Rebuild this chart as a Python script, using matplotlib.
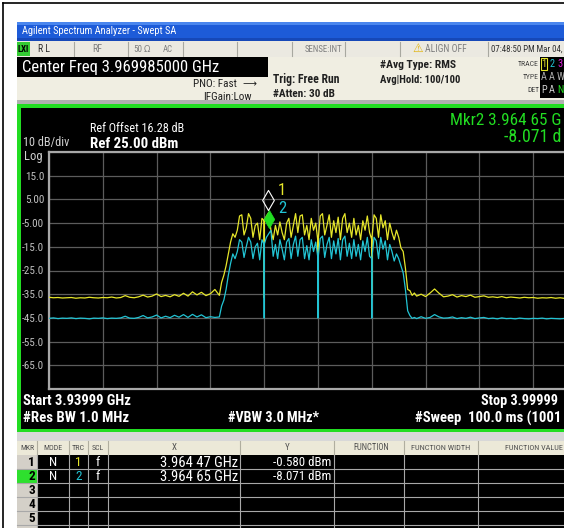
import numpy as np
import matplotlib
matplotlib.use("Agg")
import matplotlib.pyplot as plt
from matplotlib.patches import Rectangle
from matplotlib.path import Path
from matplotlib import transforms, font_manager
from matplotlib.font_manager import FontProperties

# ---------------- data ----------------
START_GHZ, STOP_GHZ = 3.93999, 3.99999
ref_level = 25.0
db_per_div = 10.0
y_tick_values = [15.0, 5.0, -5.0, -15.0, -25.0, -35.0, -45.0, -55.0, -65.0]
y_tick_labels = ["15.0", "5.00", "-5.00", "-15.0", "-25.0", "-35.0", "-45.0", "-55.0", "-65.0"]

# sweep offsets from start frequency, MHz
left_offsets = np.arange(0.0, 19.01, 0.5)
band_offsets = np.arange(19.25, 41.01, 0.25)
right_offsets = np.arange(41.5, 60.01, 0.5)

yellow_left = [-36.3, -36.5, -36.4, -36.6, -36.5, -36.4, -36.7, -36.5, -36.6, -36.3,
               -36.5, -36.6, -36.4, -36.5, -36.2, -36.6, -36.4, -35.6, -36.3, -36.5,
               -36.1, -35.4, -36.2, -35.8, -34.9, -36.0, -35.5, -36.1, -35.2, -35.9,
               -34.6, -35.8, -34.0, -35.3, -34.2, -35.6, -34.8, -33.0, -35.5]
cyan_left = [-45.2, -45.0, -45.3, -45.1, -45.2, -45.0, -45.3, -45.1, -45.2, -45.4,
             -45.1, -45.2, -45.0, -45.3, -45.1, -45.2, -45.0, -44.3, -45.1, -45.2,
             -44.8, -44.0, -45.0, -44.6, -43.8, -45.0, -44.3, -44.9, -43.9, -44.7,
             -43.6, -44.8, -43.5, -44.6, -43.7, -44.9, -44.5, -44.8, -44.6]

yellow_band = [-30, -27, -23, -18, -13, -9.5, -11, -8, -2, -1.5,
               -10, -7, -1, -3, -11, -6, -5, -12, -3, -4,
               -2, -0.6, -8, -12, -6, -10, -4.5, -9, -12, -5,
               -3, -11, -6, -1, -9, -2, -1.5, -10, -6, -12,
               -3, -8, -5, -13, -2, -1, -10, -6, -1.5, -11,
               -4, -9, -2.5, -12, -3, -1, -9, -5, -11, -3,
               -10, -6, -12, -4, -8, -2, -9, -12, -1.5, -3,
               -11, -1.5, -7, -4, -12, -5, -9, -12, -8, -11,
               -15.5, -17, -24, -33, -33.5, -35.5, -34.5, -35.8]
cyan_band = [-40, -37.5, -33, -27, -22, -18, -20, -17, -12, -13,
             -19.5, -15, -11, -13, -20, -15, -13.5, -20.5, -12, -14,
             -11, -9.5, -8.1, -19, -14, -20, -12, -16, -20.5, -13,
             -11.5, -20, -14, -10.5, -19, -12, -11, -20, -14.5, -20.5,
             -12, -17, -13, -20, -11.5, -10.5, -19.5, -14, -11, -20,
             -12.5, -18, -11.5, -20.5, -12, -10.5, -19, -13.5, -20, -12,
             -19, -14, -20.5, -12.5, -17, -11, -19, -20, -11, -12.5,
             -20, -11, -16, -12.5, -20.5, -14, -17, -21, -18, -20,
             -23, -26, -33, -42, -44, -45.2, -44.8, -45.3]

yellow_right = [-35.0, -36.0, -34.5, -32.8, -34.6, -36.1, -35.8, -35.2, -36.2, -35.6,
                -36.0, -35.4, -36.3, -36.0, -35.7, -36.3, -36.1, -36.4, -36.0, -36.5,
                -36.2, -36.4, -36.6, -36.3, -36.5, -36.4, -36.7, -36.5, -36.6, -36.4,
                -36.7, -36.5, -36.8, -36.6, -36.7, -36.9, -36.8, -36.9]
cyan_right = [-44.5, -45.2, -44.8, -43.6, -44.6, -45.1, -45.0, -44.6, -45.3, -44.9,
              -45.2, -44.7, -45.3, -45.0, -44.8, -45.3, -45.1, -45.4, -45.0, -45.3,
              -45.2, -45.4, -45.1, -45.3, -45.4, -45.2, -45.3, -45.1, -45.4, -45.2,
              -45.3, -45.4, -45.2, -45.3, -45.4, -45.2, -45.3, -45.4]

# single-point notches in the band (offset MHz) and their depths
notch_offsets = [24.0, 30.0, 36.0]
notch_yellow = [-36.5, -36.5, -36.5]
notch_cyan = [-45.0, -45.0, -45.0]

# markers
marker_freqs = [3.96447, 3.96465]
marker_levels = [-0.580, -8.071]
marker_x_text = ["3.964 47 GHz", "3.964 65 GHz"]
marker_y_text = ["-0.580 dBm", "-8.071 dBm"]
marker_trace = ["1", "2"]

# ---------------- fonts ----------------
W, H = 564, 528
COND = ("condensed", "semi-condensed", "extra-condensed", "ultra-condensed")


def wnum(w):
    if isinstance(w, (int, float)):
        return w
    return {"bold": 700, "normal": 400, "regular": 400, "medium": 500,
            "semibold": 600, "light": 300}.get(str(w).lower(), 400)


def find_narrow(bold):
    prefs = ["Liberation Sans Narrow", "Roboto Condensed", "Arial Narrow",
             "DejaVu Sans", "Noto Sans", "Open Sans", "Roboto"]
    target = 700 if bold else 400
    for p in prefs:
        best = None
        for f in font_manager.fontManager.ttflist:
            if not f.name.startswith(p) or f.style != "normal":
                continue
            if "Mono" in f.name or "Serif" in f.name or "Display" in f.name:
                continue
            cond = ("Narrow" in f.name or "Condensed" in f.name or f.stretch in COND
                    or (isinstance(f.stretch, int) and f.stretch < 500))
            if not cond:
                continue
            d = abs(wnum(f.weight) - target)
            if d <= 100 and (best is None or d < best[0]):
                best = (d, f.fname)
        if best:
            return best[1]
    return None


REG = find_narrow(False)
BLD = find_narrow(True)


def fp(bold, size):
    path = BLD if bold else REG
    if path:
        return FontProperties(fname=path, size=size)
    return FontProperties(family=["Liberation Sans", "DejaVu Sans"], size=size,
                          weight="bold" if bold else "normal")


YEL = "#e6e62a"
CYN = "#22c4d4"
GRN = "#22dd22"


def build(offsets, base, notch_vals):
    xs, ys = [], []
    for o, v in zip(offsets, base):
        xs.append(o)
        ys.append(v)
        for n, nv in zip(notch_offsets, notch_vals):
            if abs(o - n) < 1e-6:
                xs += [o, o]
                ys += [nv, v]
    return xs, ys


fig = plt.figure(figsize=(W / 100, H / 100), dpi=100)
fig.patch.set_facecolor("white")
bg = fig.add_axes([0, 0, 1, 1])
bg.set_xlim(0, W)
bg.set_ylim(H, 0)
bg.axis("off")
renderer = fig.canvas.get_renderer()


def rect(x0, y0, x1, y1, fc, ec="none", lw=0, z=1):
    bg.add_patch(Rectangle((x0, y0), x1 - x0, y1 - y0, facecolor=fc, edgecolor=ec,
                           linewidth=lw, zorder=z))


def txt(x, y, s, size, color, ha="left", va="center", bold=False, z=5, width=None,
        minsize=None):
    t = bg.text(x, y, s, fontproperties=fp(bold, size), color=color, ha=ha, va=va,
                zorder=z)
    if width is not None:
        bb = t.get_window_extent(renderer=renderer)
        new = size * width / max(bb.width, 1)
        if minsize is not None:
            new = max(new, minsize)
        t.set_fontsize(new)
    return t


def sym(x, y, s, size, color, ha="center", z=5):
    bg.text(x, y, s, fontsize=size, color=color, ha=ha, va="center",
            family=["DejaVu Sans"], zorder=z)


# outer frame
bg.plot([3, 3], [3, H], color="black", lw=1.2, zorder=2)
bg.plot([3, W], [3, 3], color="black", lw=1.2, zorder=2)

# title bar
rect(17, 22, W + 5, 41, "#1d5bd8")
rect(17, 22, W + 5, 25, "#4a86ee")
rect(17, 38, W + 5, 41, "#1648b8")
txt(22, 31.5, "Agilent Spectrum Analyzer - Swept SA", 8, "white", width=154)

# status row
rect(17, 41, W + 5, 57, "#ebe9e1")
for xb in [74, 128, 183, 237, 292, 345, 400, 488]:
    bg.plot([xb, xb], [42, 56], color="#a8a8a0", lw=0.8, zorder=2)
rect(17, 42, 30, 56, "#33cc33", z=2)
txt(17.5, 49, "LXI", 6, "black", bold=True, width=11.5)
txt(38, 49, "R L", 7, "#303030", width=12)
txt(92, 49, "RF", 7, "#808080", width=10)
txt(133, 49, "50", 7, "#808080", width=9)
sym(147, 49, "Ω", 6, "#808080")
txt(163, 49, "AC", 7, "#808080", width=10)
txt(305, 49, "SENSE:INT", 7, "#808080", width=38)
sym(418, 48.5, "⚠", 8.5, "#e0b000")
txt(425, 49, "ALIGN OFF", 7, "#808080", width=42)
txt(491, 49, "07:48:50 PM Mar 04,", 7, "#303030", width=71)

# header row
rect(17, 57, W + 5, 100, "#f0eee2")
rect(17, 57, 268, 77, "black", z=2)
txt(22, 67.5, "Center Freq 3.969985000 GHz", 13, "white", z=3, width=197)
txt(237, 84, "PNO: Fast", 8.5, "#202020", ha="right", width=34, minsize=8)
sym(249, 84, "⟶", 7, "#202020")
txt(203, 97, "IFGain:Low", 8.5, "#202020", width=42, minsize=8)
txt(273, 80, "Trig: Free Run", 9.5, "#202020", bold=True, width=67)
txt(273, 94, "#Atten: 30 dB", 9.5, "#202020", bold=True, width=62)
txt(380, 65, "#Avg Type: RMS", 9.5, "#202020", bold=True, width=76)
txt(380, 80, "Avg|Hold: 100/100", 9.5, "#202020", bold=True, width=82)
rect(540, 57, W + 5, 98, "black", z=2)
txt(539, 64, "TRACE", 6, "#404040", ha="right", width=21)
txt(539, 77, "TYPE", 6, "#404040", ha="right", width=16)
txt(539, 90, "DET", 6, "#404040", ha="right", width=12)
rect(540.5, 58, 547, 70, "none", ec=YEL, lw=0.8, z=3)
for i, (c, tl, dl, dc) in enumerate([(YEL, "A", "P", "#d0d0d0"), (CYN, "A", "A", "#d0d0d0"),
                                      ("#e020e0", "W", "N", GRN)]):
    xc = 543.8 + 8.3 * i
    txt(xc, 64, str(i + 1), 7.5, c, ha="center", z=4)
    txt(xc, 77, tl, 7.5, "#b0b0b0", ha="center", z=4)
    txt(xc, 90, dl, 7.5, dc, ha="center", z=4)

# screen
rect(17, 100, W + 5, 104, "#b0b0b0")
rect(17, 104, W + 5, 432, GRN)
rect(20.5, 107.5, W + 5, 429, "black")
txt(90, 128, "Ref Offset 16.28 dB", 9, "white", width=94)
txt(90, 143.5, "Ref 25.00 dBm", 11, "white", bold=True, width=88)
txt(23, 142.5, "10 dB/div", 8.5, "#d0d0d0", width=46)
txt(24, 156.5, "Log", 8.5, "#d0d0d0", width=18)
txt(450, 120.5, "Mkr2 3.964 65 G", 14, GRN, width=112)
txt(504, 137.5, "-8.071 d", 14, GRN, width=58)
txt(23, 401, "Start 3.93999 GHz", 10.5, "white", bold=True, width=108)
txt(481, 401, "Stop 3.99999", 10.5, "white", bold=True, width=77)
txt(23, 418, "#Res BW 1.0 MHz", 10.5, "white", bold=True, width=107)
txt(228, 418, "#VBW 3.0 MHz*", 10.5, "white", bold=True, width=92)
txt(415, 418, "#Sweep  100.0 ms (1001", 10.5, "white", bold=True, width=147)

# marker table
rect(17, 432, W + 5, 441, "#d8d8d8")
rect(17, 441, W + 5, 455, "#ece9d8")
rect(37, 455, W + 5, H + 5, "black")
rect(17, 455, 37, H + 5, "#d4d0c8")
rect(17, 469.3, 37, 483.3, "#2ee02e", z=2)
cols = [17, 37, 69, 88, 108, 240, 334, 404, 478]
for xb in cols[1:]:
    bg.plot([xb, xb], [441, 455], color="#b0ae9f", lw=0.8, zorder=3)
    bg.plot([xb, xb], [455, H], color="#a8a8a8", lw=0.8, zorder=3)
row_tops = [455, 469.3, 483.3, 496.9, 510.9, 524.9]
for yb in row_tops[1:]:
    bg.plot([17, W], [yb, yb], color="#a8a8a8", lw=0.8, zorder=3)
headers = [("MKR", 27, 14), ("MODE", 53, 19), ("TRC", 78.5, 13), ("SCL", 98, 12),
           ("X", 174, None), ("Y", 287, None), ("FUNCTION", 371, 36),
           ("FUNCTION WIDTH", 441, 60)]
for s, xc, wd in headers:
    txt(xc, 448, s, 6.5, "#505050", ha="center", width=wd)
txt(505, 448, "FUNCTION VALUE", 6.5, "#505050", width=58)
for i in range(5):
    yc = (row_tops[i] + row_tops[i + 1]) / 2 + 0.5
    txt(35, yc, str(i + 1), 9.5, "black", ha="right", bold=True, z=4)
for i in range(2):
    yc = (row_tops[i] + row_tops[i + 1]) / 2 + 0.5
    txt(53, yc, "N", 9.5, "white", ha="center", z=4)
    txt(78.5, yc, marker_trace[i], 9.5, [YEL, CYN][i], ha="center", z=4)
    txt(98, yc, "f", 9.5, "white", ha="center", z=4)
    txt(238, yc, marker_x_text[i], 9.5, "white", ha="right", z=4, width=78)
    txt(331, yc, marker_y_text[i], 9.5, "white", ha="right", z=4, width=58)

# ---------------- graticule / traces ----------------
x0, x1, y0, y1 = 49, 587, 152, 389
ax = fig.add_axes([x0 / W, 1 - y1 / H, (x1 - x0) / W, (y1 - y0) / H])
ax.set_facecolor("none")
ax.set_xlim(START_GHZ, STOP_GHZ)
bottom = ref_level - 10 * db_per_div
ax.set_ylim(bottom, ref_level)
ax.set_xticks(np.linspace(START_GHZ, STOP_GHZ, 11))
ax.set_xticklabels([])
ax.set_yticks([ref_level] + y_tick_values + [bottom])
ax.set_yticklabels([""] + y_tick_labels + [""])
ax.tick_params(length=0, pad=3.5, labelcolor="#c0c0c0")
for lab in ax.get_yticklabels():
    lab.set_fontproperties(fp(False, 8))
ax.grid(True, color="#5c5c5c", lw=0.9)
for sp in ax.spines.values():
    sp.set_color("#a8a8a8")
    sp.set_linewidth(1.6)

for base_sets, notch_vals, color, z in [
        ((yellow_left, yellow_band, yellow_right), notch_yellow, YEL, 3),
        ((cyan_left, cyan_band, cyan_right), notch_cyan, CYN, 4)]:
    xs, ys = [], []
    for offs, vals in zip((left_offsets, band_offsets, right_offsets), base_sets):
        a, b = build(offs, vals, notch_vals)
        xs += a
        ys += b
    freqs = START_GHZ + np.array(xs) / 1000.0
    ax.plot(freqs, ys, color=color, lw=0.9, zorder=z, clip_on=True)

diamond = Path([(0, 1), (0.58, 0), (0, -1), (-0.58, 0), (0, 1)],
               [Path.MOVETO, Path.LINETO, Path.LINETO, Path.LINETO, Path.CLOSEPOLY])
t1 = transforms.offset_copy(ax.transData, fig=fig, x=-0.5, y=12.5, units="dots")
ax.plot([marker_freqs[0]], [marker_levels[0]], marker=diamond, ms=14.5, mfc="none",
        mec="white", mew=0.8, transform=t1, zorder=6, clip_on=False)
t2 = transforms.offset_copy(ax.transData, fig=fig, x=-1.0, y=11.0, units="dots")
ax.plot([marker_freqs[1]], [marker_levels[1]], marker=diamond, ms=13, mfc=GRN,
        mec=GRN, mew=0.5, transform=t2, zorder=6, clip_on=False)
tl1 = transforms.offset_copy(ax.transData, fig=fig, x=9, y=22, units="dots")
ax.text(marker_freqs[0], marker_levels[0], "1", color=YEL, fontproperties=fp(False, 12),
        transform=tl1, va="center", zorder=7)
tl2 = transforms.offset_copy(ax.transData, fig=fig, x=8, y=22, units="dots")
ax.text(marker_freqs[1], marker_levels[1], "2", color=CYN, fontproperties=fp(False, 12),
        transform=tl2, va="center", zorder=7)

fig.savefig("out.png", dpi=100, facecolor="white")
